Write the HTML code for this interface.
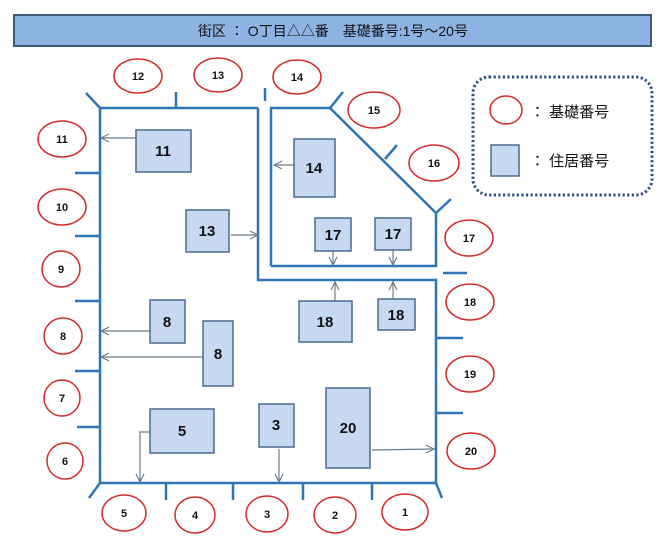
<!DOCTYPE html>
<html><head><meta charset="utf-8"><style>
html,body{margin:0;padding:0;background:#fff;}
svg{display:block;}
text{font-family:"Liberation Sans","Noto Sans CJK JP",sans-serif;}
</style></head><body>
<svg width="667" height="558" viewBox="0 0 667 558" xmlns="http://www.w3.org/2000/svg">
<defs>
<marker id="a" markerWidth="10" markerHeight="10" refX="9" refY="5" orient="auto" markerUnits="userSpaceOnUse">
<path d="M1,1 L9,5 L1,9" fill="none" stroke="#6b7b8c" stroke-width="1.2"/>
</marker>
</defs>
<rect x="14" y="15" width="637" height="31" fill="#8db3e2" stroke="#3b5a80" stroke-width="2"/>
<text x="333" y="36" font-size="14" text-anchor="middle" fill="#111">街区 ： O丁目△△番　基礎番号:1号～20号</text>

<g stroke="#2e75b6" stroke-width="2.5" fill="none">
<polyline points="258,108 100,108 100,483 436,483 436,280 258,280 258,108"/>
<polyline points="271,266 271,108 330,108 436,213 436,266 271,266"/>
<line x1="100" y1="108" x2="86" y2="93"/>
<line x1="176" y1="107" x2="176" y2="92"/>
<line x1="265" y1="88" x2="265" y2="101"/>
<line x1="330" y1="108" x2="343" y2="92"/>
<line x1="385" y1="159" x2="397" y2="145"/>
<line x1="436" y1="213" x2="451" y2="199"/>
<line x1="75" y1="173" x2="100" y2="173"/>
<line x1="75" y1="236" x2="100" y2="236"/>
<line x1="75" y1="301" x2="100" y2="301"/>
<line x1="75" y1="371" x2="100" y2="371"/>
<line x1="77" y1="427" x2="101" y2="427"/>
<line x1="443" y1="273" x2="467" y2="273"/>
<line x1="436" y1="338" x2="463" y2="338"/>
<line x1="436" y1="413" x2="463" y2="413"/>
<line x1="100" y1="483" x2="89" y2="498"/>
<line x1="166" y1="483" x2="166" y2="500"/>
<line x1="233" y1="483" x2="233" y2="500"/>
<line x1="303" y1="483" x2="303" y2="500"/>
<line x1="372" y1="483" x2="372" y2="500"/>
<line x1="436" y1="483" x2="442" y2="498"/>
</g>

<g stroke="#6b7b8c" stroke-width="1.2" fill="none" marker-end="url(#a)">
<line x1="136" y1="138" x2="101" y2="138"/>
<line x1="294" y1="165" x2="274" y2="165"/>
<line x1="231" y1="235" x2="258" y2="235"/>
<line x1="333" y1="251" x2="333" y2="265"/>
<line x1="393" y1="250" x2="393" y2="265"/>
<line x1="335" y1="301" x2="335" y2="282"/>
<line x1="393" y1="299" x2="393" y2="282"/>
<line x1="150" y1="331" x2="101" y2="331"/>
<line x1="203" y1="357" x2="101" y2="357"/>
<polyline points="150,432 140,432 140,482"/>
<line x1="279" y1="449" x2="279" y2="482"/>
<line x1="372" y1="450" x2="434" y2="449"/>
</g>

<g fill="#c6d9f1" stroke="#4a6a8f" stroke-width="1.5">
<rect x="136" y="130" width="55" height="42"/>
<rect x="294" y="139" width="41" height="58"/>
<rect x="186" y="210" width="43" height="42"/>
<rect x="315" y="218" width="36" height="33"/>
<rect x="375" y="218" width="36" height="32"/>
<rect x="299" y="301" width="53" height="41"/>
<rect x="378" y="299" width="37" height="31"/>
<rect x="150" y="300" width="35" height="43"/>
<rect x="203" y="321" width="30" height="65"/>
<rect x="150" y="409" width="64" height="44"/>
<rect x="259" y="404" width="35" height="43"/>
<rect x="326" y="388" width="44" height="80"/>
</g>
<g font-size="15" font-weight="bold" text-anchor="middle" fill="#111">
<text x="163" y="156">11</text>
<text x="314" y="173">14</text>
<text x="207" y="236">13</text>
<text x="333" y="240">17</text>
<text x="393" y="239">17</text>
<text x="325" y="327">18</text>
<text x="396" y="320">18</text>
<text x="167" y="327">8</text>
<text x="218" y="359">8</text>
<text x="182" y="436">5</text>
<text x="276" y="430">3</text>
<text x="348" y="433">20</text>
</g>

<g fill="none" stroke="#d42a2a" stroke-width="1.5">
<ellipse cx="138" cy="76" rx="24" ry="17"/>
<ellipse cx="218" cy="75" rx="24" ry="17"/>
<ellipse cx="297" cy="77" rx="24" ry="17"/>
<ellipse cx="374" cy="110" rx="26" ry="18"/>
<ellipse cx="434" cy="163" rx="25" ry="18"/>
<ellipse cx="469" cy="238" rx="24" ry="18"/>
<ellipse cx="470" cy="302" rx="24" ry="18"/>
<ellipse cx="470" cy="374" rx="24" ry="18"/>
<ellipse cx="471" cy="451" rx="24" ry="18"/>
<ellipse cx="405" cy="512" rx="23" ry="18"/>
<ellipse cx="335" cy="515" rx="21" ry="18"/>
<ellipse cx="267" cy="514" rx="21" ry="18"/>
<ellipse cx="195" cy="515" rx="20" ry="18"/>
<ellipse cx="124" cy="513" rx="22" ry="18"/>
<ellipse cx="65" cy="461" rx="18" ry="18"/>
<ellipse cx="62" cy="398" rx="18" ry="18"/>
<ellipse cx="63" cy="336" rx="19" ry="18"/>
<ellipse cx="61" cy="269" rx="19" ry="18"/>
<ellipse cx="62" cy="207" rx="24" ry="18"/>
<ellipse cx="62" cy="139" rx="24" ry="18"/>
<ellipse cx="506" cy="110" rx="16" ry="14"/>
</g>
<g font-size="11" font-weight="bold" text-anchor="middle" fill="#111">
<text x="138" y="80">12</text>
<text x="218" y="79">13</text>
<text x="297" y="81">14</text>
<text x="374" y="114">15</text>
<text x="434" y="167">16</text>
<text x="469" y="242">17</text>
<text x="470" y="306">18</text>
<text x="470" y="378">19</text>
<text x="471" y="455">20</text>
<text x="405" y="516">1</text>
<text x="335" y="519">2</text>
<text x="267" y="518">3</text>
<text x="195" y="519">4</text>
<text x="124" y="517">5</text>
<text x="65" y="465">6</text>
<text x="62" y="402">7</text>
<text x="63" y="340">8</text>
<text x="61" y="273">9</text>
<text x="62" y="211">10</text>
<text x="62" y="143">11</text>
</g>

<rect x="473" y="77" width="179" height="118" rx="16" fill="none" stroke="#2f4f7f" stroke-width="3" stroke-dasharray="2.2 2.4"/>
<rect x="491" y="145" width="28" height="31" fill="#c6d9f1" stroke="#4a6a8f" stroke-width="1.5"/>
<text x="530" y="117" font-size="15" fill="#111">：  基礎番号</text>
<text x="530" y="166" font-size="15" fill="#111">：  住居番号</text>
</svg>
</body></html>
